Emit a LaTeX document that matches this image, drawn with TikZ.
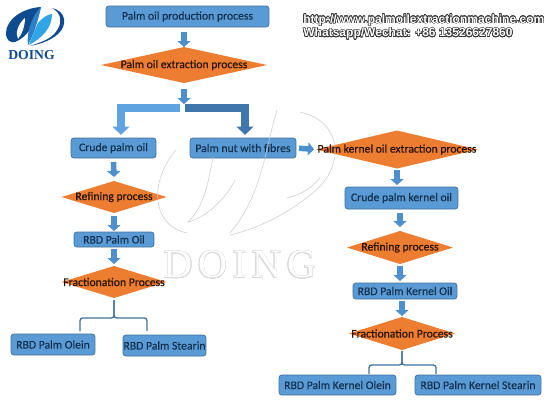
\documentclass[tikz,border=0pt]{standalone}
\usepackage{fontspec}
\setmainfont{Carlito}[FakeBold=0.35]
\newfontfamily\urlfont{Liberation Sans}
\newfontfamily\markfont[LetterSpace=14]{Liberation Serif}
\newfontfamily\logofont{Liberation Serif}
\usepackage[copies]{contour}
\contourlength{0.3pt}
\usepackage{tikz}
\usetikzlibrary{arrows.meta,shapes.geometric}
\definecolor{boxblue}{HTML}{5B9BD5}
\definecolor{boxedge}{HTML}{41719C}
\definecolor{flowblue}{HTML}{4E8FCF}
\definecolor{darkflow}{HTML}{3F76AC}
\definecolor{lightflow}{HTML}{5FA3E0}
\definecolor{decorange}{HTML}{ED7D31}
\definecolor{inkblue}{HTML}{12304F}
\definecolor{logodark}{HTML}{0F4C8F}
\definecolor{logomid}{HTML}{2F7FC8}
\definecolor{logolight}{HTML}{2FA4E7}
\newcommand{\hollow}[2]{\contour{#1}{\textcolor{white}{#2}}}

\begin{document}
\begin{tikzpicture}[
  x=0.02cm, y=-0.02cm,
  font=\fontsize{6.65pt}{8pt}\selectfont,
  proc/.style={draw=boxedge, fill=boxblue, rounded corners=1.6pt, text=inkblue,
               inner sep=0pt, outer sep=0pt},
  dec/.style={diamond, fill=decorange, inner sep=0pt, outer sep=0pt,
              label={[text=black!85!orange, inner sep=0pt]center:#1}},
  a/.style={draw=flowblue, line width=0.11cm, -{Triangle[length=0.12cm, width=0.26cm]}},
  elbowl/.style={draw=lightflow, line width=0.16cm, -{Triangle[length=0.17cm, width=0.33cm]}},
  elbowd/.style={draw=darkflow, line width=0.16cm, -{Triangle[length=0.17cm, width=0.33cm]}},
  brk/.style={draw=boxedge, line width=0.75pt, rounded corners=1.5pt},
  wmline/.style={draw=gray!40, line width=0.3pt}
]
\useasboundingbox (0,0) rectangle (550,400);
\fill[white] (0,0) rectangle (550,400);

% ---- left column ----
\node[proc, minimum width=3.26cm, minimum height=0.42cm] (prod) at (187.5,16.5) {Palm oil production process};
\node[dec={Palm oil extraction process}, minimum width=3.32cm, minimum height=0.72cm] (extr) at (184,65) {};
\node[proc, minimum width=1.7cm, minimum height=0.4cm] (crude) at (113.5,148) {Crude palm oil\hspace{0.18cm}};
\node[dec={Refining process}, minimum width=2.1cm, minimum height=0.64cm] (ref1) at (114,197) {};
\node[proc, minimum width=1.6cm, minimum height=0.3cm] (rbd1) at (114,239.5) {RBD Palm Oil};
\node[dec={Fractionation Process}, minimum width=2.1cm, minimum height=0.64cm] (frac1) at (114,282) {};
\node[proc, minimum width=1.68cm, minimum height=0.42cm] (olein1) at (53,344.5) {RBD Palm Olein};
\node[proc, minimum width=1.66cm, minimum height=0.42cm] (stear1) at (164.5,345.5) {RBD Palm Stearin};

% ---- right column ----
\node[proc, minimum width=2.12cm, minimum height=0.4cm] (nut) at (243,148) {Palm nut with fibres\hspace{0.12cm}};
\node[dec={Palm kernel oil extraction process}, minimum width=3.24cm, minimum height=0.76cm] (kext) at (397,149.5) {};
\node[proc, minimum width=2.26cm, minimum height=0.44cm] (kcrude) at (401.5,198) {Crude palm kernel oil};
\node[dec={Refining process}, minimum width=2.12cm, minimum height=0.66cm] (ref2) at (400,247.5) {};
\node[proc, minimum width=2.08cm, minimum height=0.32cm] (rbd2) at (405,291) {RBD Palm Kernel Oil};
\node[dec={Fractionation Process}, minimum width=2.12cm, minimum height=0.66cm] (frac2) at (402,333.5) {};
\node[proc, minimum width=2.34cm, minimum height=0.4cm] (olein2) at (337.5,385) {RBD Palm Kernel Olein};
\node[proc, minimum width=2.52cm, minimum height=0.4cm] (stear2) at (478,385) {RBD Palm Kernel Stearin};

% ---- block arrows ----
\coordinate (split)  at (184,104);
\coordinate (splitl) at (180,108);
\coordinate (splitr) at (185,108);
\draw[a, shorten <=0.1cm] (prod.south -| extr.north) -- (extr.north);
\draw[a, shorten <=0.12cm] (extr.south) -- (split);
\draw[elbowl, shorten >=0.06cm] (splitl) -| ([xshift=0.15cm]crude.north);
\draw[elbowd, shorten >=0.06cm] (splitr) -| ([xshift=0.04cm]nut.north);
\draw[a, shorten <=0.08cm, shorten >=0.08cm] (crude.south) -- (ref1.north);
\draw[a, shorten <=0.06cm, shorten >=0.02cm] (ref1.south) -- (rbd1.north);
\draw[a, shorten <=0.04cm, shorten >=0.04cm] (rbd1.south) -- (frac1.north);
\draw[a, shorten <=0.06cm, shorten >=0.04cm] (nut.east) -- (kext.west);
\draw[a, shorten <=0.02cm, shorten >=0.04cm] (kext.south) -- (kext.south |- kcrude.north);
\draw[a, shorten <=0.08cm, shorten >=0.08cm] (ref2.north |- kcrude.south) -- (ref2.north);
\draw[a, shorten <=0.04cm, shorten >=0.04cm] (ref2.south) -- (ref2.south |- rbd2.north);
\draw[a, shorten <=0.04cm, shorten >=0.02cm] (frac2.north |- rbd2.south) -- (frac2.north);

% ---- brackets ----
\coordinate (top1l) at (80,331);
\coordinate (top1r) at (147,331);
\coordinate (top2l) at (369,374);
\coordinate (top2r) at (436,374);
\draw[brk] (frac1.south) ++(0,2) -- ++(0,18) -| (top1l);
\draw[brk] (frac1.south) ++(0,2) -- ++(0,18) -| (top1r);
\draw[brk] (frac2.south) ++(0,1) -- ++(0,14) -| (top2l);
\draw[brk] (frac2.south) ++(0,1) -- ++(0,14) -| (top2r);

% ---- header ----
\node[anchor=west, inner sep=0pt, font=\urlfont\bfseries\fontsize{6.85pt}{8pt}\selectfont] (url) at (303,20.5)
  {\hollow{black!80}{http://www.palmoilextractionmachine.com}};
\node[anchor=west, inner sep=0pt, font=\urlfont\bfseries\fontsize{6.85pt}{8pt}\selectfont] (tel) at (303,34)
  {\hollow{black!80}{Whatsapp/Wechat: +86 13526627860}};

% ---- logo ----
\fill[logodark] (41,7) .. controls (22,8) and (6,20) .. (6,33)
  .. controls (6,40) and (10,43) .. (15,42)
  .. controls (26,38) and (36,24) .. (41,7) -- cycle;
\fill[white] (25,18) .. controls (18,24) and (15,33) .. (18,39)
  .. controls (22,34) and (25,26) .. (25,18) -- cycle;
\fill[logomid] (41,7) .. controls (33,14) and (26,32) .. (28,45)
  .. controls (33,36) and (38,22) .. (41,7) -- cycle;
\fill[logolight] (38,23) .. controls (42,18) and (48,14) .. (52,14)
  .. controls (52,28) and (42,38) .. (29,45)
  .. controls (32,37) and (35,29) .. (38,23) -- cycle;
\fill[logodark] (52,8) .. controls (66,11) and (68,25) .. (58,34)
  .. controls (50,41) and (40,44) .. (30,46)
  .. controls (42,42) and (50,39) .. (55,33)
  .. controls (63,24) and (62,13) .. (52,8) -- cycle;
\node[anchor=west, inner sep=0pt, text=logodark, font=\logofont\bfseries\fontsize{7.8pt}{9pt}\selectfont] (logo) at (8,55) {DOING};

% ---- watermark ----
\node[inner sep=0pt, font=\markfont\fontsize{23pt}{27pt}\selectfont] (wm) at (240,265) {\hollow{gray!30}{DOING}};
\draw[wmline] (176,150) .. controls (150,180) and (150,225) .. (187,233);
\draw[wmline] (213,157) .. controls (208,185) and (203,208) .. (188,222)
  .. controls (205,218) and (225,200) .. (235,180);
\draw[wmline] (300,112) .. controls (345,122) and (345,170) .. (310,195)
  .. controls (290,212) and (260,228) .. (230,235);
\draw[wmline] (277,110) .. controls (265,150) and (262,195) .. (230,233);
\draw[wmline] (287,198) .. controls (300,195) and (312,188) .. (320,178);
\end{tikzpicture}
\end{document}
